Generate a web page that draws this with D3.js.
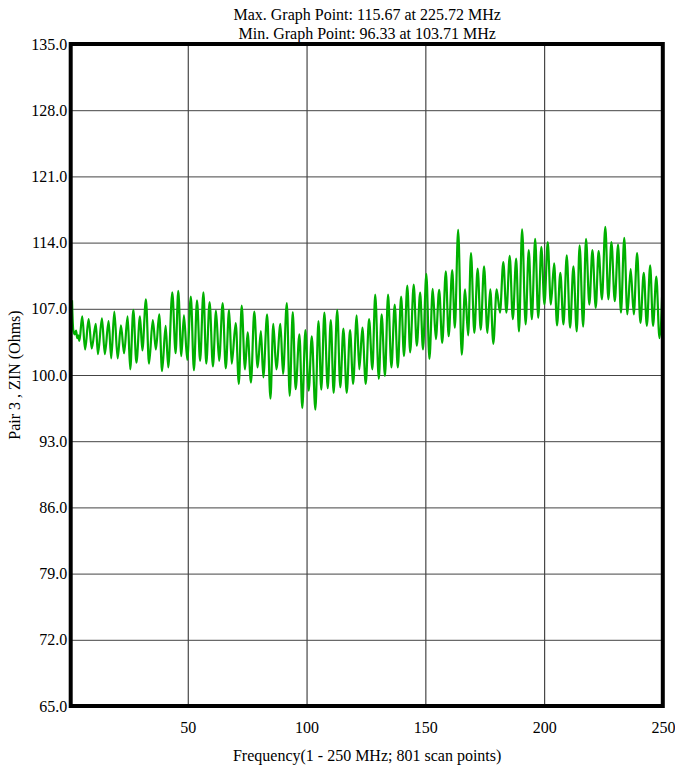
<!DOCTYPE html>
<html><head><meta charset="utf-8">
<script src="https://cdn.jsdelivr.net/npm/d3@7"></script>
<style>
body{margin:0;background:#fff}
svg{display:block}
text{font-family:"Liberation Serif","Times New Roman",serif;fill:#000}
</style>
</head><body>
<svg id="chart" width="675" height="767"></svg>
<script>
// Local extrema of the trace (MHz, Ohms)
const freqs = [
  1.3,1.8,2.4,3.0,3.5,3.9,4.4,
  5.6,6.8,8.3,9.6,11.3,12.2,13.9,15.1,16.7,17.8,19.1,20.5,21.9,23.2,24.7,25.8,27.1,28.4,29.9,30.9,32.4,33.7,35.3,36.6,38.0,39.2,40.7,
  41.8,43.5,44.9,46.0,47.3,48.4,49.8,51.3,52.6,53.9,55.2,56.6,57.8,59.2,60.6,61.9,63.2,64.7,66.0,67.4,68.5,70.2,71.5,72.7,74.1,75.2,76.6,78.0,79.4,80.8,
  81.8,83.4,84.8,86.0,87.3,89.0,90.1,91.7,92.9,94.2,95.4,97.0,98.2,99.5,100.9,102.2,103.71,105.0,106.2,107.5,108.9,110.2,111.4,112.9,114.2,115.5,116.9,118.3,119.6,121.1,
  122.2,123.5,124.9,126.3,127.7,128.9,130.4,131.6,133.0,134.3,135.7,137.1,138.4,139.8,141.0,142.4,143.6,145.1,146.4,147.8,149.0,150.4,151.7,153.1,154.4,155.8,157.1,158.6,159.8,
  161.3,162.4,163.8,165.3,166.7,168.0,169.2,170.6,172.0,173.3,174.7,176.1,177.3,178.6,180.0,181.4,182.8,184.1,185.5,186.8,188.2,189.4,190.7,192.2,193.5,194.8,196.2,197.5,198.8,200.1,201.5,
  202.8,204.2,205.4,206.8,208.1,209.5,210.9,212.3,213.7,214.9,216.4,217.6,219.0,220.3,221.7,222.9,224.3,225.72,227.0,228.3,229.7,231.1,232.3,233.7,235.0,236.4,237.7,239.1,240.5,241.9,243.2,244.6,245.8,247.2,248.5,250.0
];
const values = [
  107.9,104.8,104.3,104.7,103.9,104.2,103.6,
  106.2,102.7,105.9,102.8,105.4,102.2,106.0,102.2,105.7,101.75,106.7,101.75,105.25,102.3,106.2,100.6,106.9,101.3,106.2,102.6,108.0,101.2,105.8,102.7,106.4,100.4,105.2,
  100.8,108.75,102.3,108.9,102.0,106.3,101.6,108.3,100.5,107.9,101.5,108.75,101.2,107.7,100.9,106.8,101.5,107.6,100.7,106.9,101.2,105.5,99.05,107.35,100.6,104.5,99.2,106.7,100.8,104.65,
  99.75,106.4,97.5,105.4,100.6,105.4,100.1,107.6,97.8,106.65,98.5,104.3,96.5,104.75,98.35,104.1,96.33,105.7,98.45,106.6,98.6,105.8,98.1,106.9,98.7,104.9,98.1,104.75,99.05,106.3,
  100.6,105.0,99.05,105.9,100.6,108.5,99.6,106.4,99.9,108.5,100.8,107.45,100.8,108.3,102.0,109.45,102.4,109.55,103.1,108.7,102.7,110.7,101.7,109.1,103.8,109.0,103.4,110.95,104.1,
  111.1,105.0,115.35,102.15,109.05,104.2,112.9,104.45,111.25,104.8,111.5,104.45,109.05,103.3,109.05,106.6,111.95,106.6,112.6,105.9,112.3,104.6,115.4,105.35,113.2,105.9,114.4,106.05,113.55,107.45,114.05,
  107.45,111.8,105.25,110.8,105.35,112.65,105.0,111.5,104.6,113.7,105.1,114.4,107.45,113.2,107.1,113.1,108.0,115.67,108.0,114.05,107.8,113.8,106.6,114.5,106.4,111.2,106.4,112.9,105.5,110.8,105.2,111.6,105.2,110.4,103.9,111.0
];
const xTicks = [50, 100, 150, 200, 250];
const yTicks = [65, 72, 79, 86, 93, 100, 107, 114, 121, 128, 135];
const titleLines = ["Max. Graph Point: 115.67 at 225.72 MHz", "Min. Graph Point: 96.33 at 103.71 MHz"];
const xTitle = "Frequency(1 - 250 MHz; 801 scan points)";
const yTitle = "Pair 3 , ZIN (Ohms)";

const L = 71.3, R = 663, T = 44, B = 706;
const svg = d3.select("#chart");
const x = d3.scaleLinear().domain([1, 250]).range([L, R]);
const y = d3.scaleLinear().domain([65, 135]).range([B, T]);

// grid
const gx = svg.append("g").attr("transform", `translate(0,${B})`)
  .call(d3.axisBottom(x).tickValues(xTicks.filter(d => d < 250)).tickSize(-(B - T)).tickFormat(""));
gx.select(".domain").remove();
gx.selectAll("line").attr("stroke", "#222").attr("stroke-width", 1);
const gy = svg.append("g").attr("transform", `translate(${L},0)`)
  .call(d3.axisLeft(y).tickValues(yTicks.filter(d => d > 65 && d < 135)).tickSize(-(R - L)).tickFormat(""));
gy.select(".domain").remove();
gy.selectAll("line").attr("stroke", "#444").attr("stroke-width", 1);

// trace
const pts = freqs.map((f, i) => [f, values[i]]).filter(p => p[1] !== undefined);
svg.append("path").datum(pts)
  .attr("fill", "none").attr("stroke", "#00b000").attr("stroke-width", 2.2)
  .attr("stroke-linejoin", "round")
  .attr("d", d3.line().x(d => x(d[0])).y(d => y(d[1])).curve(d3.curveMonotoneX));

// frame
svg.append("rect").attr("x", L - 0.6).attr("y", T).attr("width", R - L + 0.4).attr("height", B - T)
  .attr("fill", "none").attr("stroke", "#000").attr("stroke-width", 4);

// tick labels
const ax = svg.append("g").attr("transform", `translate(0,${B})`)
  .call(d3.axisBottom(x).tickValues(xTicks).tickSize(0).tickPadding(16).tickFormat(d3.format("d")));
ax.select(".domain").remove();
ax.selectAll("text").attr("font-size", 16).attr("font-family", "Liberation Serif");
const ay = svg.append("g").attr("transform", `translate(${L},0)`)
  .call(d3.axisLeft(y).tickValues(yTicks).tickSize(0).tickPadding(4).tickFormat(d3.format(".1f")));
ay.select(".domain").remove();
ay.selectAll("text").attr("font-size", 16).attr("font-family", "Liberation Serif");

// titles
svg.selectAll(".title").data(titleLines).enter().append("text")
  .attr("x", (L + R) / 2).attr("y", (d, i) => 20 + i * 19)
  .attr("text-anchor", "middle").attr("font-size", 16).text(d => d);
svg.append("text").attr("x", (L + R) / 2).attr("y", 761)
  .attr("text-anchor", "middle").attr("font-size", 16).text(xTitle);
svg.append("text").attr("transform", `translate(20,${(T + B) / 2}) rotate(-90)`)
  .attr("text-anchor", "middle").attr("font-size", 16).text(yTitle);
</script>
</body></html>
